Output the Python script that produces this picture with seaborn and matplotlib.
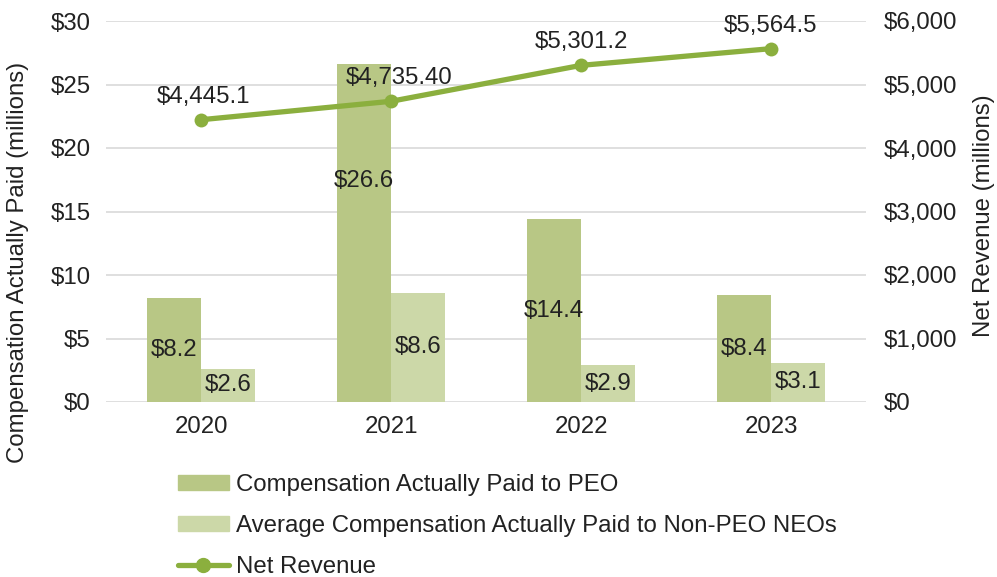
import matplotlib
matplotlib.use("Agg")
import matplotlib.pyplot as plt
import seaborn as sns
import pandas as pd
import numpy as np
from matplotlib.ticker import FuncFormatter
from matplotlib.lines import Line2D
from matplotlib.patches import Patch

years = ["2020", "2021", "2022", "2023"]
peo = [8.2, 26.6, 14.4, 8.4]
non_peo = [2.6, 8.6, 2.9, 3.1]
net_revenue = [4445.1, 4735.4, 5301.2, 5564.5]
revenue_labels = ["$4,445.1", "$4,735.40", "$5,301.2", "$5,564.5"]
peo_label_y = [4.1, 17.4, 7.2, 4.2]
series_names = ["Compensation Actually Paid to PEO",
                "Average Compensation Actually Paid to Non-PEO NEOs",
                "Net Revenue"]

C_PEO = "#B8C785"
C_NON = "#CCD8A8"
C_LINE = "#8BAF3E"
TXT = "#222222"
FS = 17.3

sns.set_theme(style="white")
plt.rcParams["font.family"] = ["Liberation Sans", "DejaVu Sans"]

fig = plt.figure(figsize=(9.97, 5.77), dpi=100)
W, H = 997, 577
ax = fig.add_axes([106 / W, 1 - 402 / H, (866 - 106) / W, (402 - 21) / H])

df = pd.DataFrame({
    "year": years * 2,
    "value": peo + non_peo,
    "series": [series_names[0]] * 4 + [series_names[1]] * 4,
})
sns.barplot(data=df, x="year", y="value", hue="series",
            palette=[C_PEO, C_NON], width=0.57, saturation=1,
            ax=ax, legend=False, linewidth=0)

ax.set_ylim(0, 30)
ax.set_yticks(range(0, 31, 5))
ax.yaxis.set_major_formatter(FuncFormatter(lambda v, p: f"${v:.0f}"))
ax.set_xlim(-0.5, 3.5)
ax.grid(axis="y", color="#D9D9D9", linewidth=1.2)
ax.set_axisbelow(True)
for s in ax.spines.values():
    s.set_visible(False)
ax.tick_params(axis="both", labelsize=FS, colors=TXT, length=0)
ax.tick_params(axis="y", pad=11)
ax.tick_params(axis="x", pad=10)
ax.set_xlabel("")
ax.set_ylabel("")

bars = ax.patches
peo_bars = bars[:4]
non_bars = bars[4:8]
for b, v, ly in zip(peo_bars, peo, peo_label_y):
    ax.text(b.get_x() + b.get_width() / 2, ly, f"${v:.1f}",
            ha="center", va="center", fontsize=FS, color=TXT)
for b, v in zip(non_bars, non_peo):
    ax.text(b.get_x() + b.get_width() / 2, v / 2, f"${v:.1f}",
            ha="center", va="center", fontsize=FS, color=TXT)

ax2 = ax.twinx()
sns.lineplot(x=np.arange(4), y=net_revenue, ax=ax2, color=C_LINE,
             linewidth=3.8, marker="o", markersize=10, markeredgewidth=0)
ax2.set_ylim(0, 6000)
ax2.set_yticks(range(0, 6001, 1000))
ax2.yaxis.set_major_formatter(FuncFormatter(lambda v, p: f"${v:,.0f}"))
for s in ax2.spines.values():
    s.set_visible(False)
ax2.tick_params(axis="y", labelsize=FS, colors=TXT, length=0, pad=13)
ax2.grid(False)
label_dx = [2, 6, 0, 0]
for i, (v, lab) in enumerate(zip(net_revenue, revenue_labels)):
    ax2.annotate(lab, (i, v), xytext=(label_dx[i], 16.5), textcoords="offset points",
                 ha="center", va="center", fontsize=FS, color=TXT)

fig.text(18 / W, 1 - 262 / H, "Compensation Actually Paid (millions)",
         rotation=90, ha="center", va="center", fontsize=FS, color=TXT)
fig.text(984 / W, 1 - 216 / H, "Net Revenue (millions)",
         rotation=90, ha="center", va="center", fontsize=FS, color=TXT)

handles = [Patch(color=C_PEO), Patch(color=C_NON),
           Line2D([0], [0], color=C_LINE, linewidth=3.8, marker="o", markersize=10)]
leg = fig.legend(handles, series_names, loc="upper left",
                 bbox_to_anchor=(156 / W, 1 - 452 / H), frameon=False,
                 fontsize=FS, handlelength=2.15, handleheight=0.6,
                 handletextpad=0.3, labelspacing=0.8, labelcolor=TXT)

fig.savefig("out.png", dpi=100, facecolor="white")
